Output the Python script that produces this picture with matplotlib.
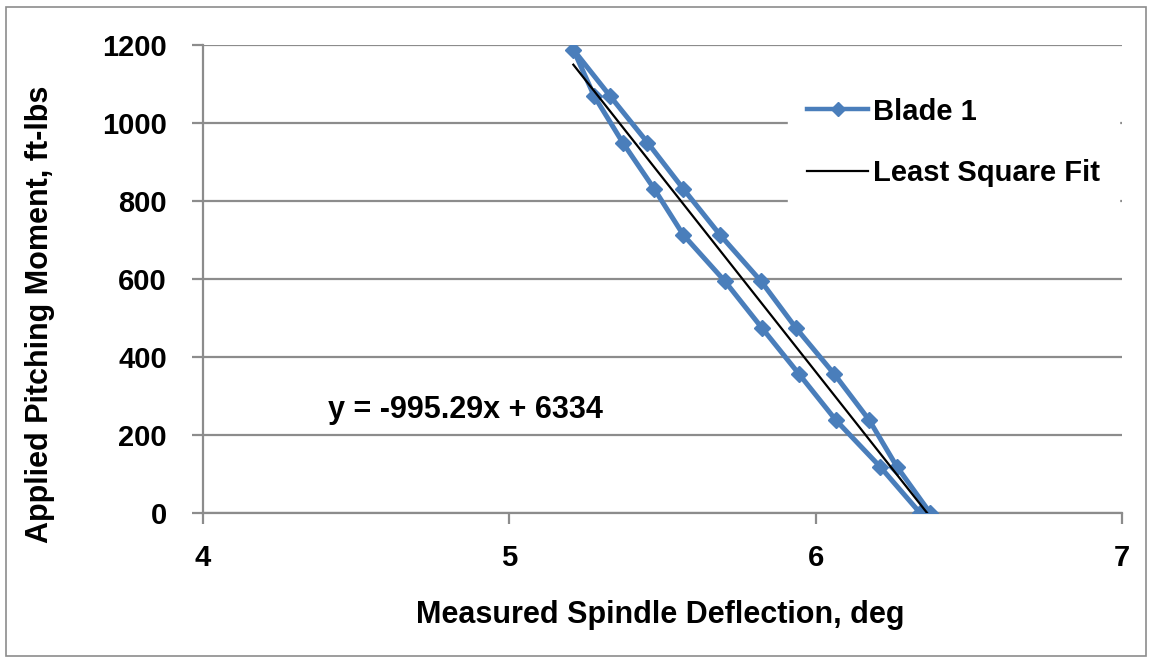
import matplotlib
matplotlib.use('Agg')
import matplotlib.pyplot as plt
from matplotlib.patches import Rectangle
import numpy as np

# Blade 1 loading / unloading loop (deg, ft-lbs)
deflection = [6.374, 6.265, 6.175, 6.061, 5.935, 5.822, 5.688, 5.568, 5.451, 5.329,
              5.209,
              5.277, 5.370, 5.473, 5.568, 5.704, 5.824, 5.946, 6.066, 6.210, 6.341]
moment = [0, 119, 238, 356, 475, 594, 713, 831, 950, 1069,
          1188,
          1069, 950, 831, 713, 594, 475, 356, 238, 119, 0]

fit_slope = -995.29
fit_intercept = 6334
fit_label = 'y = -995.29x + 6334'

xticks = [4, 5, 6, 7]
yticks = [0, 200, 400, 600, 800, 1000, 1200]

plt.rcParams['font.family'] = ['Liberation Sans', 'DejaVu Sans']
plt.rcParams['font.weight'] = 'bold'

W, H = 1154, 663
fig = plt.figure(figsize=(W / 100, H / 100), dpi=100)
fig.patches.append(Rectangle((6 / W, 7 / H), (W - 14) / W, (H - 14) / H,
                             transform=fig.transFigure, fill=False,
                             edgecolor='#8c8c8c', linewidth=1.2))

ax = fig.add_axes([203 / W, 1 - 513 / H, (1122 - 203) / W, (513 - 45) / H])
grid_c = '#8c8c8c'

ax.plot(deflection, moment, color='#4a7ebb', linewidth=3.6, marker='D',
        markersize=8.5, markerfacecolor='#4a7ebb', markeredgecolor='#4a7ebb',
        label='Blade 1', zorder=3, solid_joinstyle='round')

fx = np.array([min(deflection), max(deflection)])
ax.plot(fx, fit_slope * fx + fit_intercept, color='black', linewidth=1.6,
        label='Least Square Fit', zorder=4)

ax.set_xlim(4, 7)
ax.set_ylim(0, 1200)
ax.set_xticks(xticks)
ax.set_yticks(yticks)
ax.yaxis.grid(True, color=grid_c, linewidth=1.6)
ax.set_axisbelow(True)
for s in ['top', 'right']:
    ax.spines[s].set_visible(False)
for s in ['left', 'bottom']:
    ax.spines[s].set_color(grid_c)
    ax.spines[s].set_linewidth(1.6)
ax.tick_params(axis='both', colors=grid_c, length=8, width=1.6,
               labelcolor='black', labelsize=21)
ax.tick_params(axis='x', pad=14)
ax.tick_params(axis='y', pad=18)
for lab in ax.get_xticklabels() + ax.get_yticklabels():
    lab.set_fontweight('bold')

ax.set_xlabel('Measured Spindle Deflection, deg', fontsize=22,
              fontweight='bold', va='center')
ax.xaxis.set_label_coords(0.498, -0.218)
ax.set_ylabel('Applied Pitching Moment, ft-lbs', fontsize=22,
              fontweight='bold', va='center')
ax.yaxis.set_label_coords(-0.177, 0.425)

ax.text(4.408, 264, fit_label, fontsize=22, fontweight='bold',
        va='center', ha='left')

leg = ax.legend(loc='upper left', bbox_to_anchor=(0.6366, 0.928),
                borderaxespad=0, frameon=True, fontsize=21,
                handlelength=2.1, handletextpad=0.15,
                labelspacing=1.15, borderpad=0.65)
leg.get_frame().set_edgecolor('white')
leg.get_frame().set_facecolor('white')
leg.get_frame().set_alpha(1)
leg.get_frame().set_boxstyle('square', pad=0)
for t in leg.get_texts():
    t.set_fontweight('bold')
leg.legend_handles[0].set_markersize(7)
leg.legend_handles[0].set_linewidth(3.2)

fig.savefig('out.png', dpi=100)
